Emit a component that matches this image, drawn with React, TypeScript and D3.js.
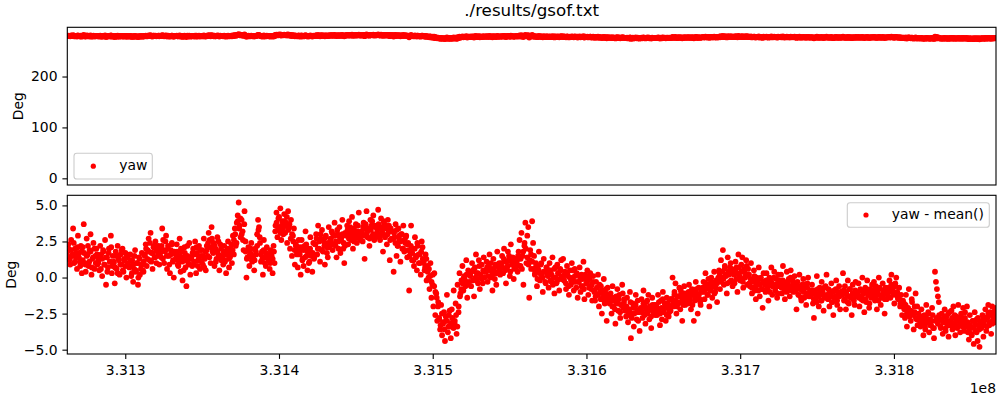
import React, { useEffect, useRef } from "react";
import * as d3 from "d3";

// time span of the samples (seconds)
const tStart = 331262300;
const tEnd = 331866400;

// mean of yaw, the top panel is yaw - mean() + yawMean
const yawMean = 278;

// yaw - mean() in time order (outer spread of the band)
const yawDev = [
  1.8, 2.3, 1.2, 0.9, 2.6, 1.5, 3.4, 1.0, 2.0, 1.4, 0.6, 2.9, 1.7, 1.1, 2.2, 0.3,
  2.1, 3.7, 1.0, 0.4, 2.7, 1.6, 0.8, 1.9, 3.0, 0.2, 1.3, 2.4, 0.6, 1.5, 2.0, 0.9,
  1.2, 0.5, 2.2, 1.6, 0.1, 1.9, 0.9, 2.6, -0.5, 1.4, 0.7, 2.0, 1.1, 2.9, 0.3, 1.5,
  1.0, -0.4, 1.8, 0.6, 2.2, 1.3, 0.2, 1.6, 0.9, 2.0, 0.4, 1.2, 1.7, 0.0, 1.4, 0.8,
  0.8, 1.6, 0.1, 1.2, -0.3, 0.6, 1.9, 0.4, 1.0, -0.5, 1.4, 0.2, 0.9, 1.7, 0.5, 1.1,
  1.5, 2.3, 0.8, 1.9, 2.7, 1.2, 3.1, 1.7, 0.6, 2.1, 1.4, 2.5, 1.0, 1.8, 2.2, 0.9,
  2.0, 1.4, 3.4, 2.6, 1.0, 1.8, 2.9, 0.6, 2.2, 1.5, 0.3, 1.9, 2.4, 1.1, 0.0, 1.7,
  1.6, 2.3, 0.9, 1.2, 2.7, 0.4, 1.8, -0.2, 1.4, 2.1, 0.7, -0.6, 1.5, 1.0, 2.4, 0.2,
  1.4, 0.8, 2.0, 1.1, 2.5, 0.3, 1.7, 1.2, 2.2, 0.6, 1.5, 1.9, 0.9, 2.7, 1.3, 0.5,
  2.2, 1.5, 3.1, 2.6, 1.0, 3.5, 1.8, 2.4, 0.8, 2.0, 1.3, 2.8, 1.6, 0.5, 2.3, 1.2,
  1.5, 0.9, 2.2, 1.2, 0.3, 1.8, 2.5, 0.7, 1.4, 2.0, 1.0, 2.9, 1.6, 3.4, 2.2, 3.8,
  4.3, 5.2, 3.6, 2.8, 4.0, 3.2, 1.9, 4.6, 2.5, 0.0, 1.4, 2.1, 0.8, 1.7, 2.4, 1.1,
  1.3, 0.5, 2.0, 1.6, 3.0, 4.0, 3.5, 2.4, 1.1, 1.8, 0.2, 2.6, 1.4, 0.8, 2.1, 1.5,
  1.2, 0.6, 1.9, 1.5, 0.3, 2.2, 1.0, 3.6, 4.5, 2.8, 4.1, 3.3, 4.8, 2.6, 3.9, 3.0,
  4.4, 3.1, 3.8, 2.4, 4.6, 3.5, 2.0, 4.0, 1.5, 2.9, 3.4, 0.9, 2.2, 1.6, 0.7, 2.6,
  1.8, 0.2, 2.6, 1.3, 0.8, 2.2, 3.2, 1.5, 0.5, 2.0, 1.1, 2.8, 1.7, 0.4, 2.4, 1.4,
  2.3, 3.0, 1.6, 3.6, 2.0, 1.1, 2.7, 3.3, 1.8, 2.5, 0.9, 2.9, 2.1, 1.4, 3.5, 2.4,
  2.6, 3.2, 1.9, 2.9, 3.8, 2.2, 1.4, 3.0, 2.5, 3.5, 1.7, 2.8, 4.0, 2.0, 1.0, 3.1,
  2.9, 3.6, 2.3, 3.9, 3.1, 2.6, 4.2, 2.0, 3.4, 2.8, 3.7, 2.4, 3.2, 4.5, 2.7, 3.0,
  3.1, 2.5, 3.8, 1.3, 3.4, 4.6, 2.8, 3.3, 2.2, 4.0, 3.6, 2.9, 4.3, 2.6, 3.5, 3.0,
  3.5, 4.7, 3.0, 2.6, 4.1, 3.3, 1.8, 3.8, 2.9, 3.6, 2.3, 4.0, 3.2, 1.2, 3.4, 2.7,
  3.2, 0.4, 2.8, 3.7, 1.5, 2.2, 3.4, 2.6, 1.1, 3.0, 2.0, 3.6, 1.8, 2.4, 2.9, 1.4,
  2.4, -0.9, 1.8, 3.6, 1.2, 2.0, 0.8, 2.8, 1.5, 0.5, 2.2, 1.0, 1.6, 0.2, 2.5, 1.3,
  1.2, 0.5, 1.6, -0.2, 0.8, 0.0, -0.8, 1.0, -1.4, -0.5, -2.0, 0.3, -2.6, -1.1, -3.0, -1.7,
  -2.8, -3.6, -1.9, -4.0, -3.2, -2.4, -4.4, -3.0, -1.2, -3.8, -2.6, -3.4, -4.2, -2.2, -3.1, -0.9,
  -3.2, -1.8, -3.9, -0.5, -2.4, 0.3, -1.1, -0.2, 0.8, -0.9, 0.1, -0.6, 1.2, -1.4, 0.5, -0.3,
  0.2, -0.6, 1.0, 0.5, -1.3, 0.7, 1.6, -0.2, 0.3, 1.2, -0.8, 0.0, 0.9, -0.4, 1.4, 0.4,
  0.5, 1.1, -0.3, 0.8, 1.6, 0.0, 0.6, -0.9, 1.3, 0.3, 0.9, -0.5, 1.8, 0.4, 1.0, 0.2,
  0.8, 1.5, 0.3, 2.0, 1.1, -0.4, 0.6, 1.8, 1.2, 0.1, 2.3, 0.9, 1.4, -0.1, 1.0, 0.7,
  1.2, 0.4, 1.8, 2.6, 0.8, 3.1, 1.5, -0.5, 2.2, 3.8, 1.0, 2.9, 3.5, -1.4, 1.9, 0.6,
  3.9, 2.4, 1.5, 0.3, 1.0, -0.6, 0.6, 1.8, -0.2, 0.9, 0.1, -1.0, 1.3, 0.4, -0.4, 0.7,
  0.2, -0.7, 1.0, 0.5, -0.3, 1.4, 0.0, -1.1, 0.7, -0.4, 0.9, 0.3, -0.9, 0.6, 1.2, -0.1,
  1.3, -0.2, 0.4, -0.8, 0.8, 0.1, -1.2, 0.5, -0.5, 1.0, 0.0, -0.9, 0.6, -0.3, 0.3, -1.4,
  -0.3, 0.7, -1.0, 0.2, -0.6, 1.1, -1.5, 0.0, -0.4, 0.5, -1.2, -0.1, 0.3, -0.8, -1.6, 0.1,
  -0.9, -1.6, -0.3, -1.2, 0.2, -2.0, -1.0, -0.6, -2.5, -1.4, -0.1, -1.8, -1.1, -3.0, -0.7, -1.5,
  -1.8, -1.1, -2.5, -0.6, -2.0, -1.4, -3.2, -1.7, -0.8, -2.3, -1.2, -2.8, -1.9, -0.5, -2.1, -1.5,
  -2.0, -2.7, -1.4, -3.1, -2.3, -1.0, -4.2, -2.5, -1.8, -3.4, -2.1, -1.2, -2.9, -1.6, -2.4, -3.7,
  -2.2, -1.5, -2.8, -0.9, -2.0, -3.2, -1.7, -2.5, -1.2, -2.9, -2.0, -3.5, -1.4, -2.3, -1.9, -2.6,
  -1.9, -2.6, -1.2, -2.2, -3.3, -1.6, -2.9, -1.0, -2.4, -1.8, -3.0, -1.4, -2.1, -2.7, -1.5, -2.3,
  -1.5, 0.0, -2.0, -1.0, -0.4, -2.5, -1.3, -1.8, -0.7, -2.2, -1.1, -3.0, -1.6, -0.6, -1.9, -1.2,
  -1.2, -1.8, -0.5, -1.4, -2.2, -0.8, -1.0, -3.0, -1.6, -0.3, -1.1, -2.5, -0.7, -1.5, -1.9, -0.9,
  -0.9, -0.3, -1.5, 0.3, -0.6, -1.2, -0.1, -2.0, -0.8, 0.0, -1.4, -0.5, 0.4, -1.0, -0.2, -1.7,
  -0.2, 0.5, -0.8, 1.2, 0.0, 1.9, -0.5, 0.8, 0.2, -1.1, 1.4, 0.4, -0.3, 1.0, 0.6, -0.6,
  0.3, -0.4, 1.1, 0.7, -1.0, 1.6, 0.1, -0.2, 0.9, 1.4, -0.7, 0.4, 0.0, 1.2, -0.5, 0.6,
  0.2, -0.6, 1.0, -1.1, -0.2, 0.5, -0.9, -1.5, 0.0, -0.4, 0.7, -1.3, -0.1, -0.8, -2.1, 0.3,
  -0.4, -1.0, 0.3, -0.7, -1.6, 0.0, -0.2, 0.7, -1.2, -0.5, 0.4, -0.9, -0.1, -1.4, 0.2, -0.6,
  -0.5, 0.2, -1.1, 0.8, -0.3, -1.5, -0.7, 0.4, -0.9, -0.1, -1.3, 0.5, -0.6, -0.2, -1.0, 0.1,
  -0.8, -2.2, -0.3, -1.2, 0.2, -0.6, -1.6, -0.9, -0.1, -1.4, -0.5, -1.9, -0.7, 0.0, -1.1, -1.3,
  -1.1, -0.5, -1.8, -2.8, -0.9, -1.4, 0.1, -1.2, -2.0, -0.7, -1.6, -0.3, -1.0, -2.3, -1.3, -0.6,
  0.2, -1.4, -0.8, -2.0, -1.1, -0.4, -1.7, -2.6, -0.9, -1.3, -0.2, -1.9, -1.0, -0.6, -2.2, -1.2,
  -1.0, 0.3, -1.6, -0.6, -2.2, -1.2, -0.2, -1.8, -0.8, -1.4, -2.6, -0.5, -1.1, -1.9, -0.3, -1.3,
  -1.3, -0.4, -2.0, -0.9, -1.5, 0.0, -1.1, -2.4, -0.7, -1.7, -0.2, -1.2, -2.1, -0.8, -1.4, -0.5,
  -1.0, -0.3, -1.6, -0.6, -2.2, -1.2, 0.0, -0.8, -1.9, -1.4, -0.4, -1.1, -2.5, -0.7, -1.5, -0.9,
  -0.8, -0.2, -1.4, 0.2, -0.6, -1.1, -1.8, -0.4, 0.0, -1.0, -1.5, -0.7, -2.0, -1.2, -2.6, -1.6,
  -1.8, -2.8, -1.2, -3.4, -2.2, -0.8, -2.6, -3.0, -1.5, -2.4, -3.6, -2.0, -1.1, -2.9, -3.3, -2.5,
  -2.8, -3.4, -2.2, -3.1, -4.0, -2.6, -3.6, -1.9, -3.0, -2.4, -3.8, -2.9, -3.3, -2.1, -3.5, -4.2,
  0.4, -0.3, -0.8, -1.3, -1.7, -2.9, -3.5, -2.5, -3.9, -3.1, -2.2, -3.7, -2.7, -3.3, -4.1, -2.4,
  -3.0, -2.3, -3.6, -2.0, -3.2, -4.0, -2.7, -3.4, -1.9, -2.9, -3.8, -2.5, -3.3, -2.1, -3.7, -2.8,
  -3.2, -2.0, -3.8, -4.3, -2.6, -3.5, -4.0, -3.0, -4.6, -2.4, -3.7, -2.9, -4.4, -3.3, -4.8, -3.1,
  -3.5, -2.6, -4.1, -3.0, -2.2, -3.7, -2.8, -1.9, -3.3, -2.4, -3.9, -2.0, -2.9, -2.5, -3.1, -2.1,
];

// more yaw - mean() samples from the same span (the dense core of the band)
const yawDevCore = [
  1.5, 2.0, 1.3, 1.9, 1.6, 2.4, 1.1, 1.7, 2.1, 1.4, 0.8, 1.8,
  1.2, 1.7, 0.9, 1.5, 2.2, 1.1, 1.8, 0.7, 1.4, 2.0, 1.0, 1.6,
  1.0, 1.5, 0.6, 1.3, 1.8, 0.9, 1.4, 0.4, 1.7, 1.1, 2.1, 0.8,
  1.1, 0.7, 1.5, 0.3, 1.2, 0.9, 1.9, 0.5, 1.3, 0.8, 1.6, 1.0,
  0.7, 1.2, 0.3, 0.9, 1.5, 0.5, 1.0, 0.0, 1.3, 0.6, 0.9, 0.4,
  1.6, 2.0, 1.3, 1.8, 2.4, 1.1, 1.7, 2.2, 1.4, 1.9, 1.5, 2.1,
  1.7, 2.2, 1.3, 1.9, 2.5, 1.5, 2.0, 0.9, 1.6, 2.3, 1.2, 1.8,
  1.3, 1.8, 0.8, 1.5, 2.0, 1.1, 0.5, 1.7, 1.2, 2.2, 0.9, 1.4,
  1.3, 1.7, 1.0, 1.6, 2.1, 0.8, 1.4, 1.9, 1.1, 1.5, 0.7, 1.8,
  1.9, 2.4, 1.4, 2.1, 2.7, 1.7, 2.2, 1.1, 1.8, 2.5, 1.5, 2.0,
  1.4, 1.8, 1.1, 1.6, 2.0, 1.3, 1.7, 2.3, 1.9, 2.6, 3.0, 2.4,
  3.9, 3.4, 4.1, 3.0, 2.6, 3.7, 1.8, 1.3, 1.9, 1.5, 2.0, 1.2,
  1.5, 1.2, 1.8, 2.2, 3.3, 2.8, 1.6, 1.3, 1.9, 1.0, 1.7, 1.4,
  1.4, 1.0, 1.7, 1.3, 1.8, 3.2, 3.8, 3.5, 4.2, 3.1, 3.6, 3.4,
  3.9, 3.6, 4.2, 3.3, 3.7, 2.7, 3.0, 2.5, 1.9, 2.3, 1.8, 2.1,
  1.6, 2.1, 1.2, 1.9, 1.4, 2.3, 1.8, 1.0, 2.0, 1.5, 1.7, 1.3,
  2.3, 2.7, 2.0, 2.5, 3.0, 1.9, 2.6, 2.2, 2.8, 1.7, 2.4, 2.1,
  2.7, 3.1, 2.3, 2.9, 2.5, 3.3, 2.0, 2.8, 2.6, 3.0, 2.4, 2.2,
  3.0, 3.3, 2.7, 3.5, 2.9, 3.2, 2.5, 3.1, 2.8, 3.6, 3.0, 2.6,
  3.2, 3.5, 2.9, 3.7, 3.1, 3.4, 2.7, 3.3, 3.9, 3.0, 3.6, 2.8,
  3.3, 3.7, 2.9, 3.5, 3.1, 3.9, 2.8, 3.4, 3.0, 3.6, 2.6, 3.2,
  2.7, 3.1, 2.4, 3.3, 2.2, 2.9, 2.5, 3.0, 2.0, 2.6, 2.8, 2.3,
  1.9, 1.5, 2.2, 1.7, 1.2, 2.0, 1.4, 2.4, 1.6, 1.0, 1.8, 2.1,
  1.0, 0.7, 1.3, 0.4, 0.6, 0.1, -0.3, 0.2, -0.6, -1.0, -1.4, -2.0,
  -2.9, -3.3, -2.5, -3.1, -3.6, -2.7, -3.0, -3.4, -2.3, -3.2, -2.8, -3.5,
  -3.0, -2.6, -3.4, -2.0, -1.3, -0.8, -0.4, 0.0, -0.2, 0.2, -0.5, 0.4,
  0.1, 0.4, -0.2, 0.6, 0.0, 0.3, -0.4, 0.8, 0.2, -0.1, 0.5, 0.0,
  0.4, 0.7, 0.1, 0.5, 1.0, 0.2, 0.6, -0.1, 0.9, 0.3, 0.7, 0.4,
  1.0, 0.7, 1.3, 0.5, 1.1, 0.8, 1.5, 0.4, 1.2, 0.9, 0.6, 1.3,
  1.1, 1.5, 0.8, 1.3, 0.6, 1.8, 2.4, 2.0, 1.4, 0.9, 1.2, 1.6,
  1.1, 0.6, 0.2, 0.8, -0.1, 0.5, 0.3, 1.0, 0.0, 0.4, -0.3, 0.7,
  0.1, 0.4, -0.2, 0.2, -0.5, 0.6, 0.0, -0.3, 0.3, -0.1, 0.5, 0.1,
  -0.1, 0.2, -0.4, 0.3, -0.6, 0.0, -0.2, 0.5, -0.3, 0.1, -0.7, 0.2,
  -0.3, 0.0, -0.6, -0.1, -0.8, 0.2, -0.4, -0.2, -0.7, 0.1, -0.5, -0.3,
  -1.0, -1.3, -0.7, -1.2, -0.5, -1.5, -0.9, -1.1, -1.7, -0.8, -1.4, -1.2,
  -1.7, -1.4, -2.0, -1.6, -2.2, -1.3, -1.8, -1.5, -2.4, -1.9, -1.1, -1.7,
  -2.3, -2.0, -2.6, -2.2, -1.7, -2.8, -2.1, -2.5, -1.9, -2.4, -3.0, -2.2,
  -2.1, -2.4, -1.8, -2.6, -2.2, -1.6, -2.3, -2.0, -2.7, -1.9, -2.5, -2.2,
  -2.0, -2.3, -1.7, -2.5, -2.1, -1.5, -2.2, -1.9, -2.6, -1.8, -2.4, -2.0,
  -1.5, -1.8, -1.2, -1.6, -2.0, -1.3, -1.7, -0.9, -1.4, -1.9, -1.1, -1.6,
  -1.3, -1.0, -1.6, -1.2, -1.9, -1.1, -1.4, -0.8, -1.5, -1.2, -1.7, -1.0,
  -0.7, -1.0, -0.4, -0.8, -1.2, -0.5, -0.9, -0.3, -0.6, -1.1, -0.7, -0.4,
  0.0, 0.3, -0.3, 0.4, -0.1, 0.6, 0.1, -0.4, 0.2, 0.7, -0.2, 0.3,
  0.2, 0.5, -0.1, 0.3, 0.7, 0.0, 0.4, -0.3, 0.6, 0.1, 0.8, 0.2,
  -0.4, -0.1, -0.7, -0.3, 0.1, -0.6, -0.2, -0.9, -0.5, 0.0, -0.8, -0.3,
  -0.5, -0.2, -0.8, -0.4, -1.0, -0.3, -0.6, 0.0, -0.7, -0.5, -1.1, -0.2,
  -0.4, -0.7, -0.2, -0.8, -0.5, -1.0, -0.3, -0.6, 0.0, -0.9, -0.4, -0.6,
  -0.9, -0.6, -1.2, -0.8, -1.4, -0.5, -1.0, -0.7, -1.1, -0.4, -1.3, -0.9,
  -1.2, -0.9, -1.5, -1.1, -1.7, -0.8, -1.3, -1.0, -1.6, -1.2, -0.7, -1.4,
  -1.2, -1.5, -0.9, -1.3, -1.7, -1.0, -1.4, -0.8, -1.6, -1.1, -1.3, -1.0,
  -1.2, -0.9, -1.5, -1.0, -1.7, -1.3, -0.8, -1.4, -1.1, -1.6, -0.9, -1.3,
  -1.1, -1.4, -0.8, -1.3, -1.6, -1.0, -1.5, -0.9, -1.2, -1.8, -1.1, -1.3,
  -1.1, -0.8, -1.4, -1.0, -1.6, -0.7, -1.2, -1.3, -0.9, -1.5, -1.0, -1.2,
  -0.7, -1.0, -0.5, -0.9, -1.2, -0.6, -1.1, -1.4, -1.3, -1.8, -1.6, -2.0,
  -2.2, -1.9, -2.5, -2.1, -2.7, -2.3, -1.7, -2.6, -2.4, -2.8, -2.0, -2.9,
  -3.0, -2.7, -3.2, -2.9, -3.4, -2.8, -3.1, -2.5, -3.3, -3.0, -2.6, -3.5,
  -3.0, -2.8, -3.2, -2.6, -3.4, -2.9, -3.1, -2.7, -3.5, -3.0, -2.5, -3.3,
  -3.1, -2.8, -3.3, -2.6, -3.0, -3.5, -2.9, -3.2, -2.7, -3.4, -3.0, -2.4,
  -3.4, -3.1, -3.7, -3.3, -3.9, -3.0, -3.5, -3.2, -3.8, -2.8, -3.6, -3.3,
  -3.0, -2.7, -3.3, -2.8, -3.4, -2.5, -3.1, -2.6, -3.2, -2.9, -2.3, -2.7,
];

const xTicks = [331300000, 331400000, 331500000, 331600000, 331700000, 331800000];
const xTickLabels = ["3.313", "3.314", "3.315", "3.316", "3.317", "3.318"];
const topTicks = [0, 100, 200];
const bottomTicks = [-5, -2.5, 0, 2.5, 5];

const FONT = "DejaVu Sans, sans-serif";
const DOT_R = 2.9;

const App = () => {
  const ref = useRef<SVGSVGElement>(null);

  useEffect(() => {
    document.body.style.margin = "0";
    const svg = d3.select(ref.current);
    svg.selectAll("*").remove();

    const left = 67.3;
    const right = 996;
    const p1 = { top: 27.3, bottom: 185 };
    const p2 = { top: 195.3, bottom: 354 };
    const tick = 4.9;

    // each sample array is evenly spread over the time span
    const toPoints = (vals: number[]) =>
      vals.map((v, i) => ({ t: tStart + (i * (tEnd - tStart)) / (vals.length - 1), v }));
    const points = [...toPoints(yawDev), ...toPoints(yawDevCore)].sort((a, b) => a.t - b.t);

    const x = d3.scaleLinear().domain([tStart, tEnd]).range([left, right]);
    const y1 = d3.scaleLinear().domain([-13.1, 296.7]).range([p1.bottom, p1.top]);
    const [lo, hi] = d3.extent(points, (d) => d.v) as [number, number];
    const pad = (hi - lo) * 0.05;
    const y2 = d3.scaleLinear().domain([lo - pad, hi + pad]).range([p2.bottom, p2.top]);

    svg.append("rect").attr("width", 1000).attr("height", 400).attr("fill", "white");

    const defs = svg.append("defs");
    [p1, p2].forEach((p, i) => {
      defs
        .append("clipPath")
        .attr("id", "clip" + i)
        .append("rect")
        .attr("x", left)
        .attr("y", p.top)
        .attr("width", right - left)
        .attr("height", p.bottom - p.top);
    });

    // title
    svg
      .append("text")
      .attr("x", (left + right) / 2)
      .attr("y", 16)
      .attr("text-anchor", "middle")
      .attr("font-family", FONT)
      .attr("font-size", 16.7)
      .text("./results/gsof.txt");

    // dots
    svg
      .append("g")
      .attr("clip-path", "url(#clip0)")
      .selectAll("circle")
      .data(points)
      .join("circle")
      .attr("cx", (d) => x(d.t))
      .attr("cy", (d) => y1(d.v + yawMean))
      .attr("r", DOT_R)
      .attr("fill", "#ff0000");

    svg
      .append("g")
      .attr("clip-path", "url(#clip1)")
      .selectAll("circle")
      .data(points)
      .join("circle")
      .attr("cx", (d) => x(d.t))
      .attr("cy", (d) => y2(d.v))
      .attr("r", DOT_R)
      .attr("fill", "#ff0000");

    const styleAxis = (g) => {
      g.select(".domain").remove();
      g.selectAll("line").attr("stroke", "black").attr("stroke-width", 1.1);
      g.selectAll("text").attr("font-family", FONT).attr("font-size", 13.9).attr("fill", "black");
    };

    // y axes
    svg
      .append("g")
      .attr("transform", `translate(${left},0)`)
      .call(d3.axisLeft(y1).tickValues(topTicks).tickSize(tick).tickPadding(4.9).tickFormat(d3.format("d")))
      .call(styleAxis);

    svg
      .append("g")
      .attr("transform", `translate(${left},0)`)
      .call(d3.axisLeft(y2).tickValues(bottomTicks).tickSize(tick).tickPadding(4.9).tickFormat(d3.format(".1f")))
      .call(styleAxis);

    // x axis (bottom panel only)
    svg
      .append("g")
      .attr("transform", `translate(0,${p2.bottom})`)
      .call(
        d3
          .axisBottom(x)
          .tickValues(xTicks)
          .tickSize(tick)
          .tickPadding(4.9)
          .tickFormat((d, i) => xTickLabels[i])
      )
      .call(styleAxis)
      .call((g) => g.selectAll("text").attr("dy", "0.81em"));

    svg
      .append("text")
      .attr("x", right)
      .attr("y", 393)
      .attr("text-anchor", "end")
      .attr("font-family", FONT)
      .attr("font-size", 13.9)
      .text("1e8");

    // y labels
    [
      { p: p1, xl: 22.5 },
      { p: p2, xl: 15.5 },
    ].forEach(({ p, xl }) => {
      const cy = (p.top + p.bottom) / 2;
      svg
        .append("text")
        .attr("transform", `translate(${xl},${cy}) rotate(-90)`)
        .attr("text-anchor", "middle")
        .attr("font-family", FONT)
        .attr("font-size", 13.9)
        .text("Deg");
    });

    // frames
    [p1, p2].forEach((p) => {
      svg
        .append("rect")
        .attr("x", left)
        .attr("y", p.top)
        .attr("width", right - left)
        .attr("height", p.bottom - p.top)
        .attr("fill", "none")
        .attr("stroke", "black")
        .attr("stroke-width", 1.1);
    });

    // legends
    const legends = [
      { x0: 74, y0: 153.3, w: 78.3, h: 25.7, mx: 93.3, tx: 119.3, label: "yaw" },
      { x0: 847.3, y0: 202.7, w: 142, h: 24.6, mx: 866, tx: 891.7, label: "yaw - mean()" },
    ];
    legends.forEach((l) => {
      const cy = l.y0 + l.h / 2;
      const g = svg.append("g");
      g.append("rect")
        .attr("x", l.x0)
        .attr("y", l.y0)
        .attr("width", l.w)
        .attr("height", l.h)
        .attr("rx", 2.8)
        .attr("fill", "white")
        .attr("fill-opacity", 0.8)
        .attr("stroke", "#cccccc")
        .attr("stroke-width", 1.1);
      g.append("circle").attr("cx", l.mx).attr("cy", cy).attr("r", 2.6).attr("fill", "#ff0000");
      g.append("text")
        .attr("x", l.tx)
        .attr("y", cy + 4.2)
        .attr("font-family", FONT)
        .attr("font-size", 13.9)
        .text(l.label);
    });
  }, []);

  return <svg ref={ref} width={1000} height={400} style={{ display: "block" }} />;
};

export default App;
